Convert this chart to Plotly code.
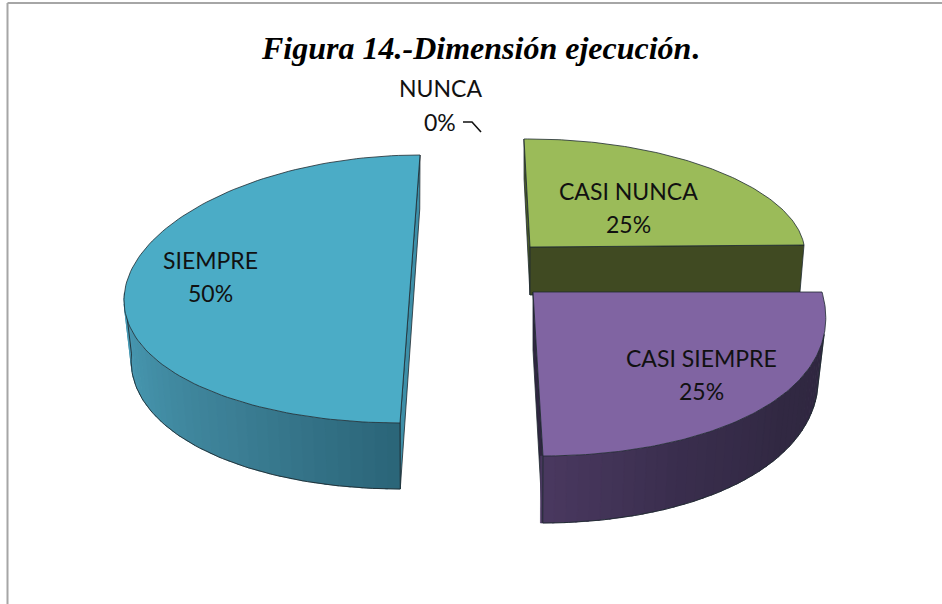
import math
import plotly.graph_objects as go

categories = ["NUNCA", "CASI NUNCA", "CASI SIEMPRE", "SIEMPRE"]
values = [0, 25, 25, 50]

# Projection of each exploded wedge: apex, radius vectors, keystone and extrusion
geom = {
    "CASI NUNCA": dict(c=(530, 247), ux=274, uy=-2, vx=-6, vy=-108, k=0.05, d0=48, d1=8, s=0.015),
    "CASI SIEMPRE": dict(c=(533, 292), ux=289, uy=0, vx=-10, vy=-164, k=0.13, d0=58, d1=9, s=0.025),
    "SIEMPRE": dict(c=(410, 289), ux=285, uy=0, vx=10, vy=-134, k=0.05, d0=60, d1=6, s=0.025),
}
tops = {"CASI NUNCA": "#9BBB59", "CASI SIEMPRE": "#8064A2", "SIEMPRE": "#4BACC6"}
faces = {"CASI NUNCA": "#404A22", "CASI SIEMPRE": "#2F2640", "SIEMPRE": "#3E8FA8"}
wall_stops = {
    "CASI SIEMPRE": [(105, "#2F2740"), (130, "#322943"), (155, "#3A2E4E"), (180, "#4A3960")],
    "SIEMPRE": [(180, "#2B6578"), (215, "#3C7F95"), (245, "#4491A9"), (268, "#4A9CB7")],
}
label_pos = {
    "NUNCA": (440, 88, 122),
    "CASI NUNCA": (628, 191, 224),
    "CASI SIEMPRE": (701, 358, 391),
    "SIEMPRE": (210, 260, 293),
}
leader_x = [463, 472, 481]
leader_y = [122, 122, 132]
OUT = "#1E2A30"


def top(g, a):
    X, Y = math.sin(math.radians(a)), math.cos(math.radians(a))
    return (g["c"][0] + g["ux"] * X * (1 - g["k"] * Y) + g["vx"] * Y,
            g["c"][1] + g["uy"] * X + g["vy"] * Y)


def low(g, a):
    X, Y = math.sin(math.radians(a)), math.cos(math.radians(a))
    x, y = top(g, a)
    return x * (1 - g["s"]) + g["c"][0] * g["s"], y + g["d0"] - g["d1"] * Y


def blend(stops, a):
    for (a0, c0), (a1, c1) in zip(stops, stops[1:]):
        if a0 <= a <= a1:
            t = (a - a0) / (a1 - a0)
            p = [int(c0[i:i + 2], 16) * (1 - t) + int(c1[i:i + 2], 16) * t for i in (1, 3, 5)]
            return "rgb(%d,%d,%d)" % tuple(p)
    return stops[-1][1]


fig = go.Figure()


def poly(pts, fill, line=OUT, w=0.8):
    xs = [p[0] for p in pts] + [pts[0][0]]
    ys = [p[1] for p in pts] + [pts[0][1]]
    fig.add_trace(go.Scatter(x=xs, y=ys, mode="lines", fill="toself", fillcolor=fill,
                             line=dict(color=line, width=w), hoverinfo="skip", showlegend=False))


def stroke(pts, w=0.9):
    fig.add_trace(go.Scatter(x=[p[0] for p in pts], y=[p[1] for p in pts], mode="lines",
                             line=dict(color=OUT, width=w), hoverinfo="skip", showlegend=False))


# wedge angles come from the values
total = sum(values)
spans = {}
acc = 0
for name, v in zip(categories, values):
    spans[name] = (acc * 360 / total, (acc + v) * 360 / total)
    acc += v

for name in ["SIEMPRE", "CASI NUNCA", "CASI SIEMPRE"]:
    g = geom[name]
    a0, a1 = spans[name]
    apex = g["c"]
    apex_low = (apex[0], apex[1] + g["d0"])
    # cut faces
    if name == "SIEMPRE":
        poly([top(g, a1), low(g, a1), low(g, a0), top(g, a0)], faces[name])
    elif name == "CASI NUNCA":
        poly([top(g, a0), low(g, a0), apex_low, apex], "#4A5A28")
        poly([apex, top(g, a1), low(g, a1), apex_low], faces[name])
    else:
        poly([apex, apex_low, low(g, a1), top(g, a1)], faces[name])
    # outer wall, shaded band by band
    if name in wall_stops:
        stops = wall_stops[name]
        n = 36
        start, end = stops[0][0], stops[-1][0]
        for i in range(n):
            b0 = start + (end - start) * i / n
            b1 = start + (end - start) * (i + 1.2) / n
            c = blend(stops, (b0 + b1) / 2)
            poly([top(g, b0), top(g, b1), low(g, b1), low(g, b0)], c, line=c, w=0.6)
        stroke([low(g, start + (end - start) * i / 80) for i in range(81)])
        stroke([top(g, start), low(g, start)])
        stroke([top(g, end), low(g, end)])
    # top surface
    m = 120
    arc = [top(g, a0 + (a1 - a0) * i / m) for i in range(m + 1)]
    if name == "SIEMPRE":
        poly(arc, tops[name])
    else:
        poly([apex] + arc, tops[name])

fig.add_trace(go.Scatter(x=leader_x, y=leader_y, mode="lines", line=dict(color="#111111", width=1.6),
                         hoverinfo="skip", showlegend=False))

annotations = [dict(x=480, y=48, text="<b><i>Figura 14.-Dimensión ejecución</i>.</b>", showarrow=False,
                    xanchor="center", yanchor="middle",
                    font=dict(family="Liberation Serif", size=32, color="#000000"))]
for name, v in zip(categories, values):
    x, y1, y2 = label_pos[name]
    pct = "%d%%" % round(100 * v / total)
    for txt, y in ((name, y1), (pct, y2)):
        annotations.append(dict(x=x, y=y, text=txt, showarrow=False, xanchor="center", yanchor="middle",
                                font=dict(family="Lato", size=23, color="#111111")))

fig.update_layout(
    width=942, height=604, margin=dict(l=0, r=0, t=0, b=0),
    paper_bgcolor="white", plot_bgcolor="white", showlegend=False,
    xaxis=dict(range=[0, 942], visible=False, fixedrange=True),
    yaxis=dict(range=[604, 0], visible=False, fixedrange=True),
    annotations=annotations,
    shapes=[
        dict(type="line", x0=7.5, x1=942, y0=3, y1=3, line=dict(color="#A6A6A6", width=2)),
        dict(type="line", x0=7.5, x1=7.5, y0=3, y1=604, line=dict(color="#A6A6A6", width=2)),
    ],
)
fig.write_html("out.html", config={"displayModeBar": False},
               post_script="document.body.style.margin='0';document.documentElement.style.overflow='hidden';")
